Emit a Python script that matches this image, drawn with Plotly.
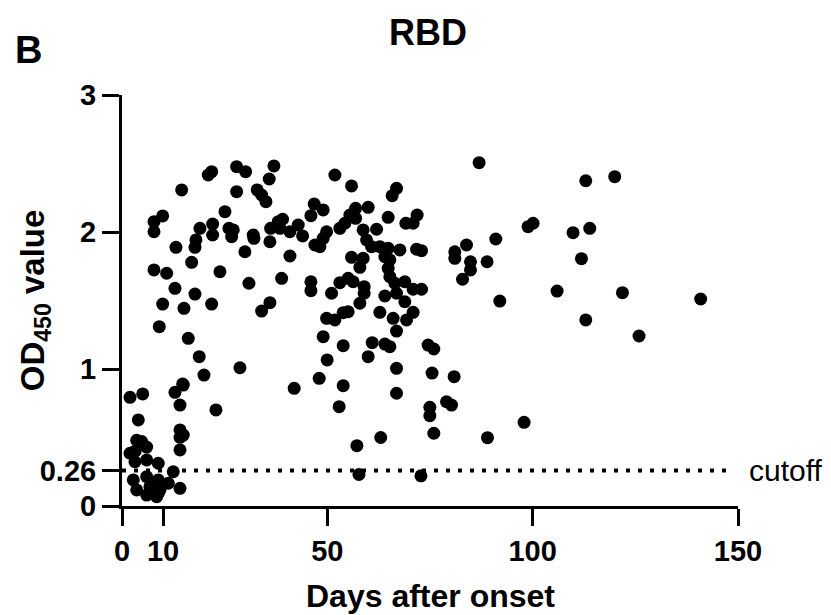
import plotly.graph_objects as go

# Days after onset and OD450 values
days = [
    1.95, 5.04, 3.97, 3.58, 4.79, 1.95, 3.2, 6.0, 3.16, 6.01, 8.83, 12.48, 2.75, 6.01, 8.83,
    3.58, 6.81, 9.25, 11.27, 14.12, 6.01, 8.44, 7.62, 8.83,
    12.9, 14.12, 14.92, 14.12, 14.92, 14.12, 14.12, 22.88,
    14.53, 9.9, 7.79, 7.79, 13.14, 7.79, 10.88, 12.9, 9.9, 9.08, 15.09, 16.14, 18.81, 19.96, 14.77,
    21.83, 21.0, 27.91, 30.1, 36.99, 35.85, 27.91, 32.93, 34.0, 35.05, 25.07,
    51.84, 55.9, 66.85, 65.78, 46.8, 48.99, 46.0, 56.88, 59.94, 55.49, 64.81, 71.87, 69.12, 70.89,
    18.98, 22.07, 22.07, 26.04, 27.09, 26.7, 31.95, 32.12, 36.19, 38.04, 39.11, 38.45, 40.89,
    42.91, 43.98, 49.82, 48.99, 53.05, 54.27, 56.88, 58.72, 61.99,
    18.01, 17.77, 36.02, 46.97, 48.19, 59.55, 60.77, 62.79, 64.81, 67.66, 71.72, 72.94,
    29.93, 40.89, 16.96, 55.9, 58.72, 57.92, 64.01, 65.22, 64.81, 65.22,
    23.85, 38.87, 30.91, 46.0, 46.0, 53.05, 55.07, 56.29, 51.03, 58.97, 58.97, 57.92,
    66.44, 68.87, 66.85, 64.01, 68.87, 70.89, 72.94,
    17.77, 21.83, 36.02, 34.0, 49.82, 51.84, 53.86, 55.07, 62.79, 66.03, 69.29, 70.89, 66.85,
    48.99, 53.86, 60.92, 64.01, 65.22, 74.54,
    28.72, 49.96, 59.94, 66.85, 75.5, 48.02, 41.93, 53.86, 66.85, 52.88,
    86.96, 112.93, 119.98, 98.88, 100.1, 109.83, 113.9, 81.04, 81.04, 83.89, 91.02, 84.86, 84.86,
    88.9, 82.92, 111.88, 92.0, 105.94, 121.86, 140.91, 112.93, 125.9,
    75.93, 80.87, 79.02, 80.24, 74.96, 74.96, 75.93, 97.91, 89.0,
    57.2, 57.7, 63.0, 72.8,
]
od450 = [
    0.793, 0.818, 0.628, 0.48, 0.47, 0.385, 0.40, 0.43, 0.323, 0.336, 0.312, 0.25, 0.19, 0.214, 0.19,
    0.117, 0.141, 0.117, 0.166, 0.129, 0.08, 0.068, 0.166, 0.093,
    0.83, 0.737, 0.883, 0.555, 0.518, 0.409, 0.501, 0.701,
    2.307, 2.117, 2.075, 2.002, 1.888, 1.723, 1.699, 1.589, 1.474, 1.309, 1.443, 1.224, 1.09, 0.956, 0.891,
    2.44, 2.416, 2.477, 2.44, 2.482, 2.387, 2.294, 2.307, 2.27, 2.221, 2.148,
    2.416, 2.336, 2.319, 2.265, 2.204, 2.161, 2.119, 2.173, 2.18, 2.124, 2.107, 2.124, 2.064, 2.064,
    2.027, 2.058, 1.978, 2.027, 2.015, 1.966, 1.978, 1.954, 2.027, 2.075, 2.093, 2.027, 2.002,
    2.051, 1.971, 2.002, 1.954, 2.027, 2.064, 2.1, 2.015, 2.02,
    1.942, 1.888, 1.929, 1.905, 1.893, 1.942, 1.893, 1.893, 1.881, 1.869, 1.874, 1.864,
    1.856, 1.825, 1.779, 1.815, 1.808, 1.742, 1.82, 1.796, 1.735, 1.674,
    1.71, 1.662, 1.626, 1.637, 1.572, 1.63, 1.662, 1.637, 1.553, 1.601, 1.553, 1.48,
    1.626, 1.637, 1.553, 1.533, 1.491, 1.582, 1.582,
    1.547, 1.474, 1.484, 1.423, 1.37, 1.358, 1.411, 1.418, 1.414, 1.37, 1.358, 1.414, 1.277,
    1.236, 1.17, 1.192, 1.182, 1.163, 1.175,
    1.009, 1.066, 1.09, 1.005, 0.97, 0.932, 0.859, 0.878, 0.823, 0.725,
    2.506, 2.374, 2.404, 2.039, 2.064, 1.995, 2.027, 1.856, 1.808, 1.905, 1.949, 1.783, 1.723,
    1.783, 1.655, 1.805, 1.496, 1.569, 1.557, 1.511, 1.358, 1.241,
    1.146, 0.944, 0.761, 0.737, 0.72, 0.659, 0.531, 0.611, 0.499,
    0.44, 0.23, 0.50, 0.22,
]

cutoff = 0.26
x_ticks = [0, 10, 50, 100, 150]
y_ticks = [0, 0.26, 1, 2, 3]
y_tick_text = ["0", "0.26", "1", "2", "3"]

FONT = "Arial, Liberation Sans, sans-serif"

fig = go.Figure()
fig.add_trace(go.Scatter(
    x=days, y=od450, mode="markers",
    marker=dict(color="black", size=13, line=dict(width=0)),
    cliponaxis=False, showlegend=False,
))

fig.add_shape(type="line", xref="x", yref="y", x0=0, x1=148, y0=cutoff, y1=cutoff,
              line=dict(color="black", width=4, dash="4px,8px"), layer="below")

axis_common = dict(
    showline=True, linecolor="black", linewidth=3, showgrid=False, zeroline=False,
    ticks="outside", ticklen=17, tickwidth=3, tickcolor="black",
    tickfont=dict(family=FONT, size=29, color="black", weight="bold"),
    mirror=False,
)

fig.update_xaxes(range=[0, 150], tickvals=x_ticks, ticktext=[str(v) for v in x_ticks], **axis_common)
fig.update_yaxes(range=[0, 3], tickvals=y_ticks, ticktext=y_tick_text, **axis_common)

fig.add_annotation(text="<b>RBD</b>", xref="paper", yref="paper", x=0.497, y=1.151,
                   showarrow=False, xanchor="center", yanchor="middle",
                   font=dict(family=FONT, size=36, color="black"))
fig.add_annotation(text="<b>B</b>", xref="paper", yref="paper", x=-0.151, y=1.109,
                   showarrow=False, xanchor="center", yanchor="middle",
                   font=dict(family=FONT, size=38, color="black"))
fig.add_annotation(text="cutoff", xref="paper", yref="y", x=1.0146, y=cutoff,
                   showarrow=False, xanchor="left", yanchor="middle",
                   font=dict(family=FONT, size=30, color="black"))
fig.add_annotation(text="<b>Days after onset</b>", xref="paper", yref="paper", x=0.5, y=-0.219,
                   showarrow=False, xanchor="center", yanchor="middle",
                   font=dict(family=FONT, size=32, color="black"))
fig.add_annotation(text="<b>OD<sub>450</sub> value</b>", xref="paper", yref="paper", x=-0.141, y=0.501,
                   showarrow=False, xanchor="center", yanchor="middle", textangle=-90,
                   font=dict(family=FONT, size=33, color="black"))

fig.update_layout(
    width=831, height=615,
    margin=dict(l=122, r=93, t=95, b=109),
    plot_bgcolor="white", paper_bgcolor="white",
)

fig.write_html("out.html")
